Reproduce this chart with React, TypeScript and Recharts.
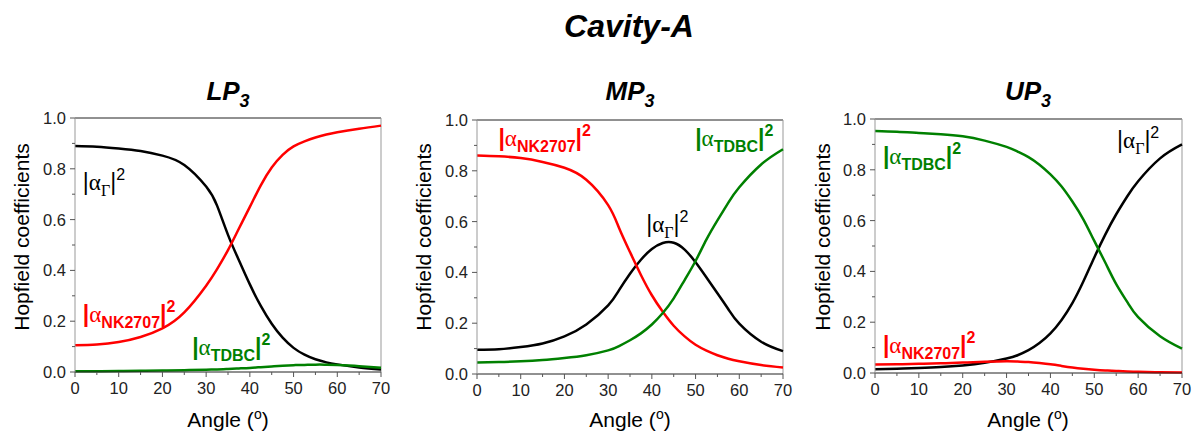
import { Line, LineChart, ReferenceDot, ReferenceLine, XAxis, YAxis } from "recharts";

// angles (deg) shared by all three panels
const angles = [0, 5, 10, 15, 20, 25, 30, 32.5, 35, 37.5, 40, 42.5, 45, 47.5, 50, 52.5, 55, 57.5, 60, 65, 70];

// LP3
const lpGamma = [0.89, 0.887, 0.88, 0.87, 0.852, 0.815, 0.73, 0.655, 0.54, 0.44, 0.345, 0.26, 0.19, 0.135, 0.095, 0.068, 0.05, 0.038, 0.03, 0.018, 0.01];
const lpNk = [0.105, 0.108, 0.118, 0.138, 0.172, 0.235, 0.34, 0.405, 0.48, 0.565, 0.65, 0.735, 0.805, 0.855, 0.888, 0.908, 0.923, 0.935, 0.944, 0.958, 0.97];
const lpTdbc = [0.003, 0.003, 0.004, 0.005, 0.006, 0.007, 0.009, 0.01, 0.012, 0.014, 0.016, 0.019, 0.022, 0.025, 0.027, 0.028, 0.029, 0.029, 0.028, 0.023, 0.017];

// MP3
const mpGamma = [0.095, 0.097, 0.106, 0.12, 0.148, 0.195, 0.27, 0.33, 0.395, 0.45, 0.492, 0.516, 0.517, 0.49, 0.44, 0.38, 0.318, 0.255, 0.198, 0.127, 0.09];
const mpNk = [0.86, 0.857, 0.85, 0.835, 0.812, 0.765, 0.665, 0.575, 0.48, 0.39, 0.31, 0.245, 0.19, 0.148, 0.115, 0.092, 0.074, 0.06, 0.05, 0.035, 0.026];
const mpTdbc = [0.045, 0.047, 0.05, 0.055, 0.063, 0.074, 0.093, 0.11, 0.133, 0.16, 0.195, 0.24, 0.298, 0.37, 0.445, 0.53, 0.605, 0.675, 0.735, 0.825, 0.885];

// UP3
const upGamma = [0.015, 0.017, 0.02, 0.024, 0.03, 0.04, 0.057, 0.07, 0.09, 0.118, 0.156, 0.208, 0.275, 0.36, 0.455, 0.545, 0.625, 0.695, 0.755, 0.845, 0.9];
const upNk = [0.033, 0.034, 0.036, 0.038, 0.041, 0.044, 0.046, 0.045, 0.043, 0.039, 0.034, 0.028, 0.022, 0.017, 0.013, 0.01, 0.008, 0.006, 0.005, 0.003, 0.002];
const upTdbc = [0.953, 0.95, 0.945, 0.94, 0.932, 0.915, 0.89, 0.872, 0.85, 0.82, 0.782, 0.735, 0.675, 0.605, 0.52, 0.435, 0.35, 0.28, 0.22, 0.145, 0.096];

const angleTicks = [0, 5, 10, 15, 20, 25, 30, 35, 40, 45, 50, 55, 60, 65, 70];
const coefTicks = [0, 0.1, 0.2, 0.3, 0.4, 0.5, 0.6, 0.7, 0.8, 0.9, 1];

// in-plot labels, placed in data coordinates
const lpLabels = [
  { kind: "gamma", angle: 1.8, value: 0.75 },
  { kind: "nk", angle: 1.8, value: 0.23 },
  { kind: "tdbc", angle: 26.8, value: 0.1 },
];
const mpLabels = [
  { kind: "nk", angle: 4.9, value: 0.93 },
  { kind: "tdbc", angle: 49.9, value: 0.93 },
  { kind: "gamma", angle: 38.7, value: 0.59 },
];
const upLabels = [
  { kind: "tdbc", angle: 1.8, value: 0.855 },
  { kind: "gamma", angle: 55.2, value: 0.917 },
  { kind: "nk", angle: 1.8, value: 0.113 },
];

const SANS = "'Liberation Sans', Arial, sans-serif";
const SERIF = "'Liberation Serif', 'Times New Roman', serif";
const COLORS: Record<string, string> = { gamma: "#000000", nk: "#ff0000", tdbc: "#008000" };

function buildRows(gamma: number[], nk: number[], tdbc: number[]) {
  return angles.map((angle, i) => ({ angle, gamma: gamma[i], nk: nk[i], tdbc: tdbc[i] }));
}

function AngleTick({ x, y, payload }: any) {
  const v = payload.value;
  const major = v % 10 === 0;
  return (
    <g>
      <line x1={x} x2={x} y1={y} y2={y + (major ? 5 : 3)} stroke="#555" />
      {major && (
        <text x={x} y={y + 22} textAnchor="middle" fontSize={16.5} fontFamily={SANS} fill="#222">
          {v}
        </text>
      )}
    </g>
  );
}

function CoefTick({ x, y, payload }: any) {
  const v = payload.value;
  const major = Math.round(v * 10) % 2 === 0;
  return (
    <g>
      <line x1={x} x2={x - (major ? 5 : 3)} y1={y} y2={y} stroke="#555" />
      {major && (
        <text x={x - 9} y={y} dy="0.36em" textAnchor="end" fontSize={16.5} fontFamily={SANS} fill="#222">
          {v.toFixed(1)}
        </text>
      )}
    </g>
  );
}

function Annotation({ viewBox, kind }: any) {
  const { x, y } = viewBox;
  const color = COLORS[kind];
  const bold = kind !== "gamma";
  const sub = kind === "nk" ? "NK2707" : kind === "tdbc" ? "TDBC" : "Γ";
  return (
    <text x={x} y={y} dy="0.36em" fontSize={23} fill={color} fontFamily={SANS} fontWeight={bold ? 700 : 400}>
      <tspan>|</tspan>
      <tspan fontFamily={SERIF} fontWeight={400}>α</tspan>
      <tspan dy={6} fontSize={16} fontFamily={bold ? SANS : SERIF}>
        {sub}
      </tspan>
      <tspan dy={-6}>|</tspan>
      <tspan dy={-10} fontSize={16}>
        2
      </tspan>
    </text>
  );
}

type PanelProps = {
  left: number;
  width: number;
  margin: { top: number; right: number; bottom: number; left: number };
  rows: ReturnType<typeof buildRows>;
  labels: { kind: string; angle: number; value: number }[];
};

function Panel({ left, width, margin, rows, labels }: PanelProps) {
  return (
    <div style={{ position: "absolute", left, top: 0 }}>
      <LineChart width={width} height={435} data={rows} margin={margin}>
        <XAxis
          dataKey="angle"
          type="number"
          domain={[0, 70]}
          ticks={angleTicks}
          interval={0}
          height={30}
          tickSize={0}
          tickMargin={0}
          tickLine={false}
          axisLine={{ stroke: "#222" }}
          tick={<AngleTick />}
        />
        <YAxis
          type="number"
          domain={[0, 1]}
          ticks={coefTicks}
          interval={0}
          width={45}
          tickSize={0}
          tickMargin={0}
          tickLine={false}
          axisLine={{ stroke: "#999" }}
          tick={<CoefTick />}
        />
        <ReferenceLine y={1} stroke="#222" />
        <ReferenceLine x={70} stroke="#999" />
        <Line dataKey="gamma" type="natural" stroke={COLORS.gamma} strokeWidth={2.5} dot={false} isAnimationActive={false} />
        <Line dataKey="nk" type="natural" stroke={COLORS.nk} strokeWidth={2.5} dot={false} isAnimationActive={false} />
        <Line dataKey="tdbc" type="natural" stroke={COLORS.tdbc} strokeWidth={2.5} dot={false} isAnimationActive={false} />
        {labels.map((l) => (
          <ReferenceDot
            key={l.kind}
            x={l.angle}
            y={l.value}
            r={0}
            fill="none"
            stroke="none"
            label={<Annotation kind={l.kind} />}
          />
        ))}
      </LineChart>
    </div>
  );
}

function PanelTitle({ cx, name }: { cx: number; name: string }) {
  return (
    <text x={cx} y={100} textAnchor="middle" fontSize={26} fontWeight={700} fontStyle="italic" fontFamily={SANS} fill="#000">
      {name}
      <tspan dy={7} fontSize={18}>
        3
      </tspan>
    </text>
  );
}

function YTitle({ cx }: { cx: number }) {
  return (
    <text
      x={cx}
      y={237}
      dy="0.36em"
      textAnchor="middle"
      transform={`rotate(-90 ${cx} 237)`}
      fontSize={21}
      fontFamily={SANS}
      fill="#000"
    >
      Hopfield coefficients
    </text>
  );
}

function XTitle({ cx }: { cx: number }) {
  return (
    <text x={cx} y={427} textAnchor="middle" fontSize={21} fontFamily={SANS} fill="#000">
      Angle (
      <tspan dy={-8} fontSize={14}>
        o
      </tspan>
      <tspan dy={8}>)</tspan>
    </text>
  );
}

export default function App() {
  return (
    <div style={{ position: "absolute", left: 0, top: 0, width: 1192, height: 435, background: "#fff" }}>
      <Panel left={0} width={400} margin={{ top: 118, right: 19, bottom: 33, left: 30 }} rows={buildRows(lpGamma, lpNk, lpTdbc)} labels={lpLabels} />
      <Panel left={400} width={400} margin={{ top: 120, right: 17, bottom: 31, left: 32 }} rows={buildRows(mpGamma, mpNk, mpTdbc)} labels={mpLabels} />
      <Panel left={800} width={392} margin={{ top: 119, right: 10, bottom: 32, left: 30 }} rows={buildRows(upGamma, upNk, upTdbc)} labels={upLabels} />
      <svg width={1192} height={435} style={{ position: "absolute", left: 0, top: 0, pointerEvents: "none" }}>
        <text x={629} y={37} textAnchor="middle" fontSize={32} fontWeight={700} fontStyle="italic" fontFamily={SANS} fill="#000">
          Cavity-A
        </text>
        <PanelTitle cx={228} name="LP" />
        <PanelTitle cx={630} name="MP" />
        <PanelTitle cx={1028} name="UP" />
        <YTitle cx={21} />
        <YTitle cx={423} />
        <YTitle cx={822} />
        <XTitle cx={228} />
        <XTitle cx={630} />
        <XTitle cx={1028} />
      </svg>
    </div>
  );
}
